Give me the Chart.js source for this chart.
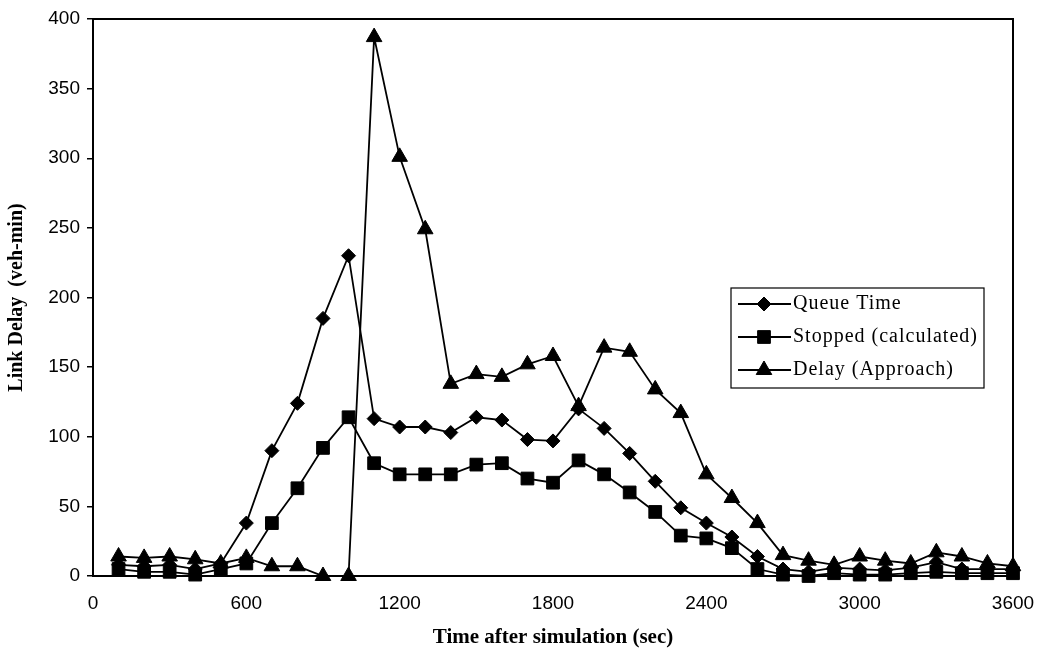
<!DOCTYPE html>
<html>
<head>
<meta charset="utf-8">
<script src="https://cdn.jsdelivr.net/npm/chart.js@4.4.1/dist/chart.umd.min.js"></script>
<style>
html,body{margin:0;padding:0;background:#fff;}
#wrap{width:1040px;height:652px;}
</style>
</head>
<body>
<div id="wrap"><canvas id="grafico" width="1040" height="652"></canvas></div>
<script>

// =====================================
// DADOS
// =====================================

const tempos = [
    100,200,300,400,500,600,700,800,900,1000,
    1100,1200,1300,1400,1500,1600,1700,1800,1900,2000,
    2100,2200,2300,2400,2500,2600,2700,2800,2900,3000,
    3100,3200,3300,3400,3500,3600
];

const queueTime = [
    8,7,8,5,9,38,90,124,185,230,
    113,107,107,103,114,112,98,97,120,106,
    88,68,49,38,28,14,5,3,6,5,
    4,6,10,5,5,5
];

const stopped = [
    5,3,3,1,5,9,38,63,92,114,
    81,73,73,73,80,81,70,67,83,73,
    60,46,29,27,20,5,1,0,2,1,
    1,2,3,2,2,2
];

const delayApproach = [
    14,13,14,12,9,13,7,7,0,0,
    387,301,249,138,145,143,152,158,122,164,
    161,134,117,73,56,38,15,11,8,14,
    11,9,17,14,9,7
];

const ticksX = [0,600,1200,1800,2400,3000,3600];

const legendas = [
    "Queue Time",
    "Stopped (calculated)",
    "Delay (Approach)"
];


// =====================================
// PLUGINS
// =====================================

const moldura = {

    id:"moldura",

    beforeDatasetsDraw(chart){

        const a = chart.chartArea;
        const ctx = chart.ctx;

        ctx.save();
        ctx.strokeStyle = "#000";
        ctx.lineWidth = 2;
        ctx.strokeRect(a.left, a.top, a.right - a.left, a.bottom - a.top);
        ctx.restore();

    }

};

const legendaCaixa = {

    id:"legendaCaixa",

    afterDatasetsDraw(chart){

        const ctx = chart.ctx;
        const a = chart.chartArea;

        const x0 = a.right - 282;
        const y0 = 288;
        const w = 253;
        const h = 100;

        ctx.save();

        ctx.fillStyle = "#fff";
        ctx.fillRect(x0, y0, w, h);
        ctx.strokeStyle = "#000";
        ctx.lineWidth = 1.2;
        ctx.strokeRect(x0, y0, w, h);

        chart.data.datasets.forEach((ds, i)=>{

            const y = y0 + 16 + i * 33;

            ctx.strokeStyle = "#000";
            ctx.lineWidth = 1.8;
            ctx.beginPath();
            ctx.moveTo(x0 + 7, y);
            ctx.lineTo(x0 + 60, y);
            ctx.stroke();

            ctx.fillStyle = "#000";
            ctx.lineWidth = 1;
            Chart.helpers.drawPoint(ctx, {
                pointStyle: ds.pointStyle,
                radius: ds.pointRadius,
                rotation: 0,
                borderWidth: 1
            }, x0 + 33, y);

            ctx.fillStyle = "#000";
            ctx.font = "20px 'Liberation Serif', 'Times New Roman', serif";
            ctx.letterSpacing = "1px";
            ctx.textBaseline = "middle";
            ctx.textAlign = "left";
            ctx.fillText(legendas[i], x0 + 62, y);

        });

        ctx.restore();

    }

};


// =====================================
// GRAFICO
// =====================================

function serie(valores){

    return tempos.map((t, i)=>({ x:t, y:valores[i] }));

}

function estilo(label, dados, ponto, raio){

    return {

        label,
        data: serie(dados),
        borderColor: "#000",
        backgroundColor: "#000",
        borderWidth: 1.8,
        pointStyle: ponto,
        pointRadius: raio,
        pointHoverRadius: raio,
        pointBorderWidth: 1,
        pointBackgroundColor: "#000",
        pointBorderColor: "#000",
        tension: 0,
        clip: false

    };

}

const ctx = document.getElementById("grafico");

new Chart(ctx,{

    type:"line",

    data:{

        datasets:[
            estilo(legendas[0], queueTime, "rectRot", 7),
            estilo(legendas[1], stopped, "rect", 9),
            estilo(legendas[2], delayApproach, "triangle", 9)
        ]

    },

    options:{

        responsive:false,
        animation:false,
        devicePixelRatio:1,

        layout:{
            padding:{ left:0, right:27, top:19, bottom:0 }
        },

        plugins:{
            legend:{ display:false },
            tooltip:{ enabled:false }
        },

        scales:{

            x:{

                type:"linear",
                min:0,
                max:3600,

                afterBuildTicks: scale=>{
                    scale.ticks = ticksX.map(v=>({ value:v }));
                },

                afterFit: scale=>{
                    scale.height = 76;
                    scale.paddingRight = 0;
                    scale.paddingLeft = 0;
                },

                grid:{ display:false, drawTicks:false },

                border:{ color:"#000", width:2 },

                ticks:{
                    color:"#000",
                    padding:16,
                    maxRotation:0,
                    callback: v=>String(v),
                    font:{ family:"'Liberation Sans', Arial, sans-serif", size:19 }
                },

                title:{
                    display:true,
                    text:"Time after simulation (sec)",
                    color:"#000",
                    padding:{ top:0, bottom:2 },
                    font:{ family:"'Liberation Serif', 'Times New Roman', serif", size:21, weight:"bold" }
                }

            },

            y:{

                min:0,
                max:400,

                afterFit: scale=>{
                    scale.width = 93;
                },

                grid:{
                    display:true,
                    drawOnChartArea:false,
                    drawTicks:true,
                    tickLength:6,
                    color:"#000",
                    lineWidth:1.5
                },

                border:{ color:"#000", width:2 },

                ticks:{
                    stepSize:50,
                    color:"#000",
                    padding:7,
                    font:{ family:"'Liberation Sans', Arial, sans-serif", size:19 }
                },

                title:{
                    display:true,
                    text:"Link Delay  (veh-min)",
                    color:"#000",
                    padding:{ top:5, bottom:0 },
                    font:{ family:"'Liberation Serif', 'Times New Roman', serif", size:20, weight:"bold" }
                }

            }

        }

    },

    plugins:[ moldura, legendaCaixa ]

});

</script>
</body>
</html>
